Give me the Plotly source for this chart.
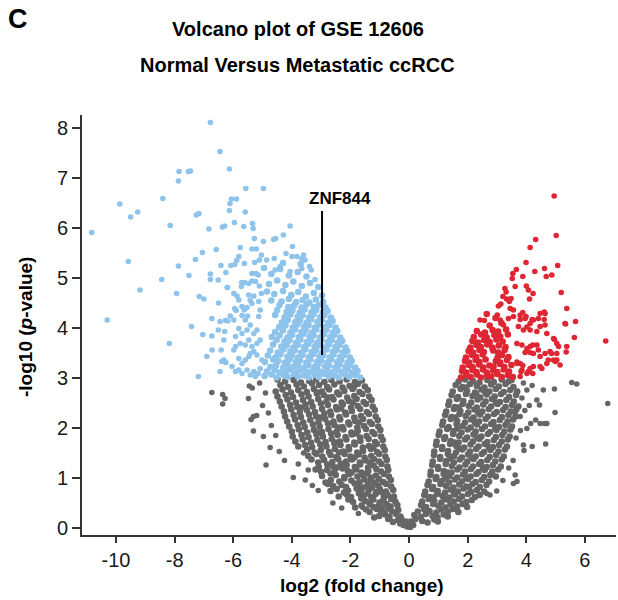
import plotly.graph_objects as go

# ---------------- data (log2 fold change, -log10 p-value) ----------------
# down-regulated, significant (blue)
down_sparse = [
    (-6.78, 8.11), (-6.45, 7.53), (-6.13, 7.18), (-7.85, 7.13), (-7.53, 7.13), (-7.46, 7.14),
    (-7.87, 6.94), (-5.57, 6.79), (-4.97, 6.79), (-9.87, 6.48), (-8.40, 6.59), (-6.06, 6.58),
    (-5.89, 6.58), (-6.11, 6.49), (-9.26, 6.32), (-9.50, 6.22), (-7.26, 6.26), (-7.17, 6.29),
    (-6.13, 6.35), (-5.59, 6.32), (-10.83, 5.91), (-8.15, 6.05), (-6.83, 5.98), (-6.37, 6.02),
    (-6.29, 6.04), (-5.96, 6.11), (-5.64, 6.03), (-5.34, 6.09), (-5.32, 5.99), (-5.28, 5.79),
    (-4.97, 5.73), (-4.62, 5.77), (-4.55, 5.79), (-4.29, 5.86), (-4.06, 6.04), (-3.98, 5.63),
    (-9.58, 5.33), (-9.18, 4.76), (-8.44, 4.97), (-7.87, 5.24), (-7.93, 4.69), (-7.51, 5.05),
    (-7.29, 5.37), (-7.05, 5.51), (-7.16, 4.63), (-7.00, 4.58), (-6.78, 5.08), (-6.78, 4.97),
    (-6.58, 5.57), (-6.51, 4.96), (-6.50, 4.50), (-6.42, 5.25), (-6.25, 5.11), (-6.20, 4.81),
    (-6.08, 5.25), (-5.95, 5.27), (-5.88, 5.35), (-5.81, 5.43), (-5.76, 5.61), (-5.71, 4.91),
    (-5.62, 5.29), (-5.36, 5.58), (-5.21, 5.58), (-3.60, 5.46), (-3.55, 5.36), (-3.40, 5.23),
    (-3.34, 5.16), (-3.21, 4.97), (-3.83, 5.43), (-4.86, 5.36), (-4.60, 5.39), (-4.40, 5.23),
    (-4.20, 5.49), (-4.00, 5.43), (-3.66, 5.39), (-4.57, 5.16), (-4.06, 5.13), (-3.66, 5.19),
    (-10.30, 4.16), (-8.18, 3.69), (-7.42, 4.03), (-7.19, 3.03), (-7.04, 3.87), (-6.90, 3.43),
    (-6.73, 4.19), (-6.73, 3.84), (-6.45, 3.13), (-6.39, 3.33), (-6.51, 3.96), (-6.45, 4.13),
    (-6.26, 4.15), (-6.19, 4.14), (-6.29, 3.93), (-6.32, 3.36), (-6.25, 3.31), (-5.92, 3.83),
    (-6.20, 4.81), (-5.98, 4.69), (-5.87, 4.64), (-5.81, 4.56), (-5.95, 4.39), (-5.90, 4.35),
    (-5.70, 4.43), (-5.63, 4.36), (-5.53, 4.41), (-5.51, 4.24), (-5.70, 4.25), (-5.59, 4.16),
    (-5.36, 4.49), (-5.42, 4.55), (-5.30, 4.64), (-5.47, 4.66), (-5.72, 4.83), (-5.61, 4.91),
    (-5.47, 4.89), (-5.36, 4.94), (-5.24, 4.93), (-5.15, 5.06), (-5.11, 5.36), (-5.27, 5.31),
    (-5.36, 5.09), (-5.22, 5.09), (-5.11, 4.84), (-5.04, 5.46), (-5.98, 3.56), (-5.81, 3.39),
    (-5.70, 3.29), (-5.59, 3.36), (-5.47, 3.43), (-5.42, 3.49), (-5.30, 3.53), (-5.19, 3.46),
    (-6.04, 3.23), (-5.92, 3.13), (-5.81, 3.16), (-5.70, 3.09), (-5.53, 3.16), (-5.42, 3.06),
    (-5.30, 3.13), (-5.25, 3.03), (-5.15, 3.09), (-5.08, 3.19), (-5.02, 3.36), (-6.10, 4.24),
    (-5.98, 4.16), (-6.32, 3.76), (-6.41, 3.56), (-6.72, 3.56), (-5.81, 3.99), (-5.70, 3.89),
    (-5.53, 3.96), (-5.42, 4.06), (-5.30, 3.89), (-5.19, 3.96), (-5.92, 3.63), (-5.76, 3.69),
    (-5.59, 3.66), (-5.47, 3.76), (-5.36, 3.63), (-5.19, 3.69), (-5.08, 3.76), (-5.13, 4.23),
    (-5.08, 4.36), (-5.13, 4.53), (-5.04, 4.69),
]
down_dense = [
    (-1.67, 3.01), (-1.84, 3.06), (-2.04, 3.02), (-2.18, 3.07), (-2.39, 3.01), (-2.53, 3.05),
    (-2.74, 3.03), (-2.88, 3.08), (-3.08, 3.02), (-3.22, 3.06), (-3.43, 3.01), (-3.58, 3.05),
    (-3.79, 3.03), (-3.93, 3.08), (-4.14, 3.02), (-4.29, 3.06), (-4.52, 3.01), (-4.69, 3.07),
    (-4.93, 3.04),
    (-1.76, 3.14), (-1.95, 3.11), (-2.09, 3.17), (-2.30, 3.12), (-2.44, 3.16), (-2.65, 3.11),
    (-2.79, 3.15), (-3.00, 3.12), (-3.13, 3.17), (-3.35, 3.13), (-3.49, 3.11), (-3.70, 3.16),
    (-3.84, 3.12), (-4.06, 3.17), (-4.20, 3.13), (-4.42, 3.11), (-4.58, 3.16), (-4.85, 3.13),
    (-1.84, 3.21), (-2.03, 3.26), (-2.17, 3.22), (-2.38, 3.27), (-2.52, 3.21), (-2.74, 3.25),
    (-2.87, 3.23), (-3.09, 3.28), (-3.23, 3.22), (-3.44, 3.26), (-3.57, 3.21), (-3.79, 3.25),
    (-3.93, 3.23), (-4.15, 3.27), (-4.29, 3.21), (-4.54, 3.25), (-4.73, 3.22),
    (-1.96, 3.34), (-2.10, 3.31), (-2.32, 3.36), (-2.45, 3.32), (-2.66, 3.37), (-2.80, 3.31),
    (-3.01, 3.35), (-3.15, 3.32), (-3.37, 3.37), (-3.50, 3.31), (-3.72, 3.35), (-3.86, 3.33),
    (-4.08, 3.37), (-4.23, 3.31), (-4.46, 3.34), (-4.64, 3.37), (-4.92, 3.32),
    (-2.02, 3.41), (-2.22, 3.46), (-2.36, 3.42), (-2.58, 3.47), (-2.71, 3.41), (-2.93, 3.45),
    (-3.06, 3.43), (-3.28, 3.48), (-3.42, 3.42), (-3.64, 3.46), (-3.78, 3.41), (-4.00, 3.45),
    (-4.15, 3.43), (-4.39, 3.47), (-4.56, 3.41), (-4.82, 3.45),
    (-2.11, 3.54), (-2.26, 3.51), (-2.47, 3.56), (-2.61, 3.52), (-2.82, 3.57), (-2.96, 3.51),
    (-3.18, 3.55), (-3.32, 3.52), (-3.54, 3.57), (-3.68, 3.51), (-3.90, 3.55), (-4.05, 3.53),
    (-4.29, 3.57), (-4.48, 3.51), (-4.74, 3.55),
    (-2.17, 3.61), (-2.38, 3.66), (-2.51, 3.62), (-2.73, 3.67), (-2.86, 3.61), (-3.08, 3.65),
    (-3.22, 3.63), (-3.44, 3.68), (-3.58, 3.62), (-3.80, 3.66), (-3.95, 3.61), (-4.18, 3.65),
    (-4.36, 3.63), (-4.64, 3.67),
    (-2.28, 3.74), (-2.43, 3.71), (-2.64, 3.76), (-2.78, 3.72), (-2.99, 3.77), (-3.13, 3.71),
    (-3.35, 3.75), (-3.49, 3.72), (-3.71, 3.77), (-3.85, 3.71), (-4.08, 3.75), (-4.25, 3.73),
    (-4.52, 3.76),
    (-2.35, 3.81), (-2.56, 3.86), (-2.69, 3.82), (-2.91, 3.87), (-3.04, 3.81), (-3.26, 3.85),
    (-3.40, 3.83), (-3.62, 3.88), (-3.76, 3.82), (-3.99, 3.86), (-4.15, 3.81), (-4.42, 3.85),
    (-4.68, 3.82),
    (-2.45, 3.94), (-2.60, 3.91), (-2.82, 3.96), (-2.95, 3.92), (-3.17, 3.97), (-3.31, 3.91),
    (-3.53, 3.95), (-3.67, 3.92), (-3.89, 3.97), (-4.05, 3.91), (-4.31, 3.95), (-4.57, 3.92),
    (-2.51, 4.01), (-2.72, 4.06), (-2.86, 4.02), (-3.07, 4.07), (-3.21, 4.01), (-3.43, 4.05),
    (-3.58, 4.03), (-3.81, 4.07), (-3.97, 4.01), (-4.22, 4.05), (-4.43, 4.02),
    (-2.61, 4.14), (-2.76, 4.11), (-2.98, 4.16), (-3.12, 4.12), (-3.34, 4.17), (-3.49, 4.11),
    (-3.72, 4.15), (-3.88, 4.12), (-4.14, 4.16), (-4.34, 4.11),
    (-2.67, 4.21), (-2.89, 4.26), (-3.03, 4.22), (-3.26, 4.27), (-3.41, 4.21), (-3.64, 4.25),
    (-3.80, 4.23), (-4.05, 4.27), (-4.25, 4.21), (-4.57, 4.26),
    (-2.78, 4.34), (-2.94, 4.31), (-3.17, 4.36), (-3.33, 4.32), (-3.57, 4.37), (-3.73, 4.31),
    (-3.98, 4.35), (-4.18, 4.32), (-4.50, 4.36),
    (-2.85, 4.41), (-3.08, 4.46), (-3.25, 4.42), (-3.50, 4.47), (-3.67, 4.41), (-3.92, 4.45),
    (-4.12, 4.42), (-4.42, 4.46),
    (-2.93, 4.52), (-3.18, 4.57), (-3.40, 4.51), (-3.63, 4.56), (-3.85, 4.52), (-4.10, 4.58),
    (-4.35, 4.53), (-4.70, 4.55),
    (-2.97, 4.65), (-3.25, 4.70), (-3.52, 4.63), (-3.78, 4.72), (-4.02, 4.66), (-4.30, 4.74),
    (-4.60, 4.68), (-4.85, 4.73),
    (-3.10, 4.82), (-3.38, 4.90), (-3.66, 4.84), (-3.95, 4.93), (-4.22, 4.86), (-4.50, 4.95),
    (-4.78, 4.88),
    (-3.50, 5.03), (-3.80, 5.12), (-4.10, 5.05), (-4.40, 5.18), (-4.70, 5.08), (-4.95, 5.20),
    (-3.70, 5.28), (-4.30, 5.30),
]

# up-regulated, significant (red)
up_sparse = [
    (4.95, 6.64), (5.02, 5.85), (4.32, 5.77), (4.13, 5.61), (3.99, 5.31), (3.66, 5.17),
    (3.54, 5.09), (3.52, 4.99), (3.88, 5.03), (4.29, 5.13), (4.62, 5.19), (4.68, 5.03),
    (4.87, 5.06), (5.07, 5.25), (3.62, 4.83), (4.00, 4.84), (4.07, 4.76), (4.11, 4.58),
    (4.23, 4.69), (3.27, 4.79), (3.31, 4.72), (3.20, 4.63), (3.33, 4.58), (3.48, 4.59),
    (3.13, 4.48), (3.05, 4.44), (5.19, 4.71), (5.38, 4.39), (5.68, 4.13), (5.34, 4.08),
    (4.61, 4.32), (4.61, 4.17), (5.64, 3.81), (4.96, 3.77), (5.10, 3.63), (4.86, 3.49),
    (5.04, 3.36), (4.99, 3.33), (4.75, 3.36), (5.36, 3.52), (4.53, 3.19), (4.47, 4.03),
    (4.41, 4.19), (4.13, 3.96), (3.79, 4.17), (3.96, 4.19), (4.02, 4.02), (4.20, 4.17),
    (4.22, 3.66), (4.36, 3.66), (4.02, 3.59), (3.96, 3.51), (4.13, 3.51), (3.79, 3.29),
    (3.88, 3.25), (3.68, 3.32), (3.82, 3.13), (4.07, 3.13), (4.22, 3.09), (6.71, 3.74),
    (3.42, 4.53), (3.45, 4.39), (3.56, 4.36), (3.88, 4.31), (2.42, 4.16), (2.57, 4.15),
    (3.01, 4.26), (3.11, 4.16), (3.22, 4.06), (3.39, 4.19), (3.56, 4.23), (3.79, 4.26),
    (3.99, 4.23), (4.13, 4.09), (4.24, 4.16), (4.47, 4.29), (4.64, 4.29), (3.73, 4.03),
    (3.90, 3.96), (4.36, 3.93), (4.64, 4.06), (4.70, 3.89), (4.93, 3.79), (5.04, 3.69),
    (5.38, 3.63), (5.32, 4.09), (3.68, 3.69), (3.85, 3.66), (4.13, 3.63), (4.24, 3.49),
    (4.41, 3.56), (4.47, 3.43), (4.64, 3.49), (4.81, 3.53), (5.04, 3.49), (4.24, 3.23),
    (4.47, 3.23), (4.70, 3.29), (4.93, 3.36), (5.15, 3.26), (3.68, 3.29), (3.85, 3.16),
    (4.02, 3.09), (4.13, 3.19), (3.79, 3.03),
]
up_dense = [
    (1.77, 3.01), (1.96, 3.06), (2.10, 3.02), (2.31, 3.07), (2.45, 3.01), (2.66, 3.05),
    (2.80, 3.03), (3.01, 3.08), (3.16, 3.02), (3.37, 3.06), (3.54, 3.02),
    (1.81, 3.14), (1.95, 3.11), (2.16, 3.16), (2.30, 3.12), (2.52, 3.17), (2.65, 3.11),
    (2.87, 3.15), (3.01, 3.12), (3.23, 3.17), (3.41, 3.13),
    (1.83, 3.21), (2.04, 3.26), (2.17, 3.22), (2.39, 3.27), (2.53, 3.21), (2.74, 3.25),
    (2.88, 3.23), (3.10, 3.28), (3.25, 3.22), (3.49, 3.26),
    (1.91, 3.34), (2.05, 3.31), (2.27, 3.36), (2.40, 3.32), (2.61, 3.37), (2.96, 3.34),
    (3.11, 3.31), (3.34, 3.36),
    (1.94, 3.41), (2.15, 3.46), (2.29, 3.42), (2.51, 3.47), (3.02, 3.41), (3.17, 3.46),
    (3.39, 3.42),
    (2.03, 3.54), (2.18, 3.51), (2.40, 3.56), (2.55, 3.52), (2.87, 3.55), (3.04, 3.51),
    (3.26, 3.56),
    (2.09, 3.61), (2.30, 3.66), (2.45, 3.62), (2.67, 3.67), (2.84, 3.61), (3.06, 3.65),
    (3.29, 3.62),
    (2.16, 3.74), (2.35, 3.71), (2.56, 3.76), (2.75, 3.72), (2.98, 3.77), (3.19, 3.73),
    (2.21, 3.82), (2.46, 3.87), (2.65, 3.81), (2.91, 3.86), (3.11, 3.83), (3.37, 3.87),
    (2.31, 3.94), (2.59, 3.91), (2.85, 3.96), (3.04, 3.93), (3.31, 3.97),
    (2.75, 4.05), (2.95, 4.20), (3.15, 4.10), (2.65, 4.28),
]

# not significant (grey)
ns_left = [
    (-0.06, 0.03), (-0.19, 0.06), (0.04, 0.02), (0.14, 0.06), (-0.30, 0.09),
    (-0.12, 0.13), (-0.38, 0.16), (-0.55, 0.12), (-0.71, 0.18), (-0.27, 0.19),
    (-0.30, 0.23), (-0.44, 0.28), (-0.67, 0.22), (-0.81, 0.27), (-1.02, 0.24), (-1.19, 0.21),
    (-0.95, 0.29),
    (-0.37, 0.36), (-0.58, 0.33), (-0.70, 0.39), (-0.96, 0.34), (-1.10, 0.38), (-1.35, 0.32),
    (-1.47, 0.37), (-0.84, 0.31),
    (-0.40, 0.46), (-0.63, 0.43), (-0.77, 0.48), (-1.03, 0.44), (-1.21, 0.42), (-1.33, 0.47),
    (-1.62, 0.45), (-1.84, 0.41), (-0.92, 0.41),
    (-0.47, 0.53), (-0.61, 0.58), (-0.88, 0.55), (-1.01, 0.51), (-1.22, 0.57), (-1.50, 0.54),
    (-1.63, 0.59), (-1.91, 0.52), (-2.07, 0.57), (-1.37, 0.51),
    (-0.52, 0.63), (-0.73, 0.66), (-0.86, 0.61), (-1.14, 0.68), (-1.29, 0.62), (-1.55, 0.65),
    (-1.71, 0.69), (-1.98, 0.62), (-2.13, 0.67), (-2.40, 0.63), (-1.42, 0.69),
    (-0.54, 0.76), (-0.79, 0.73), (-1.00, 0.78), (-1.12, 0.72), (-1.37, 0.76), (-1.64, 0.73),
    (-1.79, 0.79), (-2.08, 0.75), (-2.22, 0.71), (-2.47, 0.78), (-2.68, 0.74), (-0.92, 0.71),
    (-0.61, 0.83), (-0.78, 0.88), (-1.05, 0.85), (-1.26, 0.81), (-1.41, 0.87), (-1.70, 0.84),
    (-1.86, 0.89), (-2.15, 0.82), (-2.30, 0.86), (-2.59, 0.84), (-2.77, 0.88), (-1.57, 0.81),
    (-0.62, 0.96), (-0.88, 0.92), (-1.03, 0.98), (-1.31, 0.94), (-1.52, 0.97), (-1.69, 0.92),
    (-1.97, 0.95), (-2.21, 0.99), (-2.38, 0.93), (-2.67, 0.96), (-2.85, 0.91), (-1.18, 0.91),
    (-0.69, 1.03), (-0.86, 1.08), (-1.13, 1.05), (-1.30, 1.01), (-1.58, 1.06), (-1.76, 1.03),
    (-2.04, 1.08), (-2.21, 1.02), (-2.50, 1.06), (-2.68, 1.09), (-2.97, 1.04), (-1.44, 1.09),
    (-0.71, 1.16), (-0.95, 1.13), (-1.12, 1.18), (-1.39, 1.14), (-1.62, 1.11), (-1.80, 1.17),
    (-2.09, 1.14), (-2.27, 1.19), (-2.55, 1.12), (-2.80, 1.16), (-3.00, 1.12), (-3.19, 1.17),
    (-1.96, 1.11),
    (-0.74, 1.23), (-0.94, 1.28), (-1.21, 1.25), (-1.40, 1.21), (-1.67, 1.27), (-1.85, 1.22),
    (-2.13, 1.26), (-2.33, 1.29), (-2.60, 1.23), (-2.79, 1.27), (-3.08, 1.22), (-2.46, 1.21),
    (-0.76, 1.36), (-1.02, 1.33), (-1.20, 1.38), (-1.48, 1.35), (-1.68, 1.31), (-1.95, 1.37),
    (-2.15, 1.33), (-2.42, 1.38), (-2.62, 1.32), (-2.90, 1.36), (-3.10, 1.31), (-3.33, 1.37),
    (-1.33, 1.31),
    (-0.81, 1.43), (-1.02, 1.48), (-1.29, 1.44), (-1.52, 1.41), (-1.72, 1.47), (-2.00, 1.43),
    (-2.20, 1.48), (-2.48, 1.42), (-2.68, 1.46), (-2.96, 1.43), (-3.16, 1.48), (-3.44, 1.44),
    (-1.86, 1.41),
    (-0.83, 1.56), (-1.09, 1.52), (-1.30, 1.58), (-1.57, 1.54), (-1.77, 1.51), (-2.05, 1.57),
    (-2.25, 1.53), (-2.53, 1.58), (-2.73, 1.52), (-3.01, 1.56), (-3.22, 1.51), (-3.48, 1.57),
    (-2.39, 1.51),
    (-0.88, 1.63), (-1.10, 1.68), (-1.37, 1.64), (-1.58, 1.61), (-1.85, 1.67), (-2.06, 1.62),
    (-2.34, 1.66), (-2.55, 1.69), (-2.82, 1.63), (-3.03, 1.67), (-3.31, 1.62), (-3.55, 1.66),
    (-3.78, 1.63), (-1.22, 1.61),
    (-0.90, 1.76), (-1.16, 1.72), (-1.38, 1.78), (-1.66, 1.74), (-1.87, 1.71), (-2.14, 1.77),
    (-2.36, 1.73), (-2.64, 1.78), (-2.85, 1.72), (-3.13, 1.76), (-3.35, 1.71), (-3.63, 1.77),
    (-3.88, 1.73), (-2.50, 1.71),
    (-0.96, 1.83), (-1.18, 1.88), (-1.45, 1.84), (-1.67, 1.81), (-1.95, 1.87), (-2.17, 1.82),
    (-2.44, 1.86), (-2.66, 1.89), (-2.94, 1.83), (-3.16, 1.87), (-3.43, 1.82), (-3.67, 1.86),
    (-3.97, 1.83), (-1.81, 1.89),
    (-0.98, 1.96), (-1.25, 1.92), (-1.47, 1.98), (-1.75, 1.94), (-1.97, 1.91), (-2.24, 1.97),
    (-2.47, 1.93), (-2.75, 1.98), (-2.97, 1.92), (-3.25, 1.96), (-3.48, 1.91), (-3.76, 1.97),
    (-4.00, 1.93), (-3.10, 1.91),
    (-1.05, 2.03), (-1.27, 2.08), (-1.54, 2.04), (-1.77, 2.01), (-2.04, 2.07), (-2.27, 2.02),
    (-2.55, 2.06), (-2.77, 2.09), (-3.05, 2.03), (-3.28, 2.07), (-3.56, 2.02), (-3.80, 2.06),
    (-4.09, 2.03), (-2.41, 2.01),
    (-1.07, 2.16), (-1.34, 2.12), (-1.57, 2.18), (-1.84, 2.14), (-2.07, 2.11), (-2.35, 2.17),
    (-2.58, 2.13), (-2.86, 2.18), (-3.09, 2.12), (-3.37, 2.16), (-3.61, 2.11), (-3.89, 2.17),
    (-4.16, 2.13), (-1.71, 2.11),
    (-1.14, 2.23), (-1.37, 2.28), (-1.64, 2.24), (-1.87, 2.21), (-2.15, 2.27), (-2.38, 2.22),
    (-2.66, 2.26), (-2.89, 2.29), (-3.17, 2.23), (-3.41, 2.27), (-3.69, 2.22), (-3.94, 2.26),
    (-4.23, 2.23), (-3.03, 2.21),
    (-1.17, 2.36), (-1.44, 2.32), (-1.67, 2.38), (-1.95, 2.34), (-2.18, 2.31), (-2.46, 2.37),
    (-2.69, 2.33), (-2.97, 2.38), (-3.21, 2.32), (-3.49, 2.36), (-3.73, 2.31), (-4.02, 2.37),
    (-4.27, 2.33), (-2.32, 2.39),
    (-1.24, 2.43), (-1.47, 2.48), (-1.75, 2.44), (-1.98, 2.41), (-2.26, 2.47), (-2.49, 2.42),
    (-2.77, 2.46), (-3.01, 2.49), (-3.29, 2.43), (-3.53, 2.47), (-3.81, 2.42), (-4.06, 2.46),
    (-4.35, 2.43), (-3.67, 2.41),
    (-1.28, 2.56), (-1.55, 2.52), (-1.79, 2.58), (-2.06, 2.54), (-2.30, 2.51), (-2.58, 2.57),
    (-2.82, 2.53), (-3.10, 2.58), (-3.34, 2.52), (-3.62, 2.56), (-3.86, 2.51), (-4.15, 2.57),
    (-4.41, 2.53), (-1.92, 2.51),
    (-1.36, 2.63), (-1.59, 2.68), (-1.87, 2.64), (-2.11, 2.61), (-2.39, 2.67), (-2.63, 2.62),
    (-2.91, 2.66), (-3.15, 2.69), (-3.43, 2.63), (-3.67, 2.67), (-3.96, 2.62), (-4.21, 2.66),
    (-4.49, 2.63), (-2.77, 2.61),
    (-1.41, 2.76), (-1.69, 2.72), (-1.93, 2.78), (-2.21, 2.74), (-2.45, 2.71), (-2.73, 2.77),
    (-2.97, 2.73), (-3.25, 2.78), (-3.49, 2.72), (-3.78, 2.76), (-4.03, 2.71), (-4.32, 2.77),
    (-4.55, 2.73), (-3.11, 2.71),
    (-1.51, 2.83), (-1.75, 2.88), (-2.03, 2.84), (-2.27, 2.81), (-2.55, 2.87), (-2.79, 2.82),
    (-3.07, 2.86), (-3.31, 2.89), (-3.59, 2.83), (-3.84, 2.87), (-4.13, 2.82), (-4.39, 2.86),
    (-1.89, 2.81),
    (-1.61, 2.95), (-1.85, 2.92), (-2.13, 2.97), (-2.37, 2.93), (-2.65, 2.96), (-2.89, 2.92),
    (-3.17, 2.97), (-3.41, 2.94), (-3.69, 2.91), (-3.94, 2.96), (-4.23, 2.93), (-4.49, 2.97),
]
ns_left_sparse = [
    (-6.73, 2.71), (-6.36, 2.67), (-6.28, 2.59), (-6.36, 2.48), (-5.48, 2.59), (-5.45, 2.84),
    (-5.35, 2.80), (-5.39, 2.17), (-5.31, 2.23), (-5.20, 2.25), (-5.31, 1.94), (-4.97, 1.83),
    (-4.74, 1.61), (-4.43, 1.53), (-4.88, 1.26), (-4.25, 1.35), (-3.95, 1.01), (-3.54, 0.96),
    (-3.78, 1.28), (-3.44, 1.16), (-1.73, 0.29), (-1.58, 0.41), (-5.10, 2.90), (-4.90, 2.70),
    (-5.00, 2.45), (-4.80, 2.30), (-4.70, 2.05), (-4.55, 1.85), (-3.30, 0.85), (-3.60, 1.50),
    (-3.10, 0.75), (-2.60, 0.50), (-2.30, 0.40),
]
ns_right = [
    (0.06, 0.13), (0.22, 0.18), (0.45, 0.14), (0.63, 0.11), (0.86, 0.17), (0.98, 0.13),
    (0.18, 0.26), (0.40, 0.22), (0.57, 0.28), (0.80, 0.24), (0.97, 0.21), (1.18, 0.27),
    (1.32, 0.23),
    (0.30, 0.33), (0.51, 0.38), (0.70, 0.34), (0.93, 0.31), (1.10, 0.37), (1.33, 0.33),
    (1.50, 0.38), (1.68, 0.32),
    (0.41, 0.46), (0.58, 0.42), (0.82, 0.48), (1.00, 0.44), (1.24, 0.41), (1.41, 0.47),
    (1.64, 0.43), (1.83, 0.48), (1.98, 0.42),
    (0.45, 0.53), (0.67, 0.58), (0.86, 0.54), (1.10, 0.51), (1.29, 0.57), (1.52, 0.53),
    (1.71, 0.58), (1.95, 0.52), (2.14, 0.56), (1.22, 0.59),
    (0.52, 0.66), (0.70, 0.62), (0.95, 0.68), (1.14, 0.64), (1.38, 0.61), (1.57, 0.67),
    (1.81, 0.63), (2.01, 0.68), (2.25, 0.62), (2.41, 0.66), (0.83, 0.61),
    (0.55, 0.73), (0.79, 0.78), (0.98, 0.74), (1.23, 0.71), (1.42, 0.77), (1.67, 0.73),
    (1.86, 0.79), (2.11, 0.72), (2.31, 0.76), (2.56, 0.73), (1.53, 0.71),
    (0.63, 0.86), (0.82, 0.82), (1.07, 0.88), (1.26, 0.84), (1.51, 0.81), (1.71, 0.87),
    (1.96, 0.83), (2.16, 0.88), (2.41, 0.82), (2.64, 0.86), (2.05, 0.81),
    (0.67, 0.93), (0.91, 0.98), (1.11, 0.94), (1.36, 0.91), (1.56, 0.97), (1.81, 0.93),
    (2.01, 0.98), (2.27, 0.92), (2.48, 0.96), (2.73, 0.93), (1.24, 0.99),
    (0.73, 1.06), (0.93, 1.02), (1.18, 1.08), (1.38, 1.04), (1.64, 1.01), (1.84, 1.07),
    (2.10, 1.03), (2.30, 1.08), (2.56, 1.02), (2.77, 1.06), (2.96, 1.03), (1.96, 1.01),
    (0.74, 1.13), (0.99, 1.18), (1.19, 1.14), (1.45, 1.11), (1.65, 1.17), (1.91, 1.13),
    (2.11, 1.18), (2.37, 1.12), (2.58, 1.16), (2.84, 1.13), (3.04, 1.17), (1.32, 1.11),
    (0.79, 1.26), (0.99, 1.22), (1.25, 1.28), (1.46, 1.24), (1.72, 1.21), (1.92, 1.27),
    (2.18, 1.23), (2.39, 1.28), (2.65, 1.22), (2.86, 1.26), (3.13, 1.23), (2.52, 1.21),
    (0.81, 1.33), (1.06, 1.38), (1.27, 1.34), (1.53, 1.31), (1.73, 1.37), (1.99, 1.33),
    (2.20, 1.38), (2.46, 1.32), (2.67, 1.36), (2.94, 1.33), (3.16, 1.37), (1.40, 1.39),
    (0.85, 1.46), (1.06, 1.42), (1.32, 1.48), (1.53, 1.44), (1.80, 1.41), (2.01, 1.47),
    (2.27, 1.43), (2.48, 1.48), (2.75, 1.42), (2.97, 1.46), (3.23, 1.43), (2.14, 1.41),
    (0.86, 1.53), (1.12, 1.58), (1.33, 1.54), (1.60, 1.51), (1.81, 1.57), (2.08, 1.53),
    (2.29, 1.58), (2.56, 1.52), (2.78, 1.56), (3.05, 1.53), (3.27, 1.57), (1.72, 1.59),
    (0.92, 1.66), (1.13, 1.62), (1.40, 1.68), (1.61, 1.64), (1.88, 1.61), (2.10, 1.67),
    (2.37, 1.63), (2.58, 1.68), (2.86, 1.62), (3.07, 1.66), (3.34, 1.63), (2.72, 1.61),
    (0.94, 1.73), (1.20, 1.78), (1.42, 1.74), (1.69, 1.71), (1.91, 1.77), (2.18, 1.73),
    (2.40, 1.78), (2.67, 1.72), (2.89, 1.76), (3.16, 1.73), (3.37, 1.77), (1.55, 1.71),
    (1.01, 1.86), (1.23, 1.82), (1.50, 1.88), (1.71, 1.84), (1.98, 1.81), (2.20, 1.87),
    (2.47, 1.83), (2.69, 1.88), (2.96, 1.82), (3.18, 1.86), (3.43, 1.83), (2.33, 1.81),
    (1.04, 1.93), (1.30, 1.98), (1.52, 1.94), (1.79, 1.91), (2.00, 1.97), (2.27, 1.93),
    (2.49, 1.98), (2.76, 1.92), (2.98, 1.96), (3.25, 1.93), (3.46, 1.97), (1.65, 1.99),
    (1.13, 2.06), (1.35, 2.02), (1.62, 2.08), (1.83, 2.04), (2.10, 2.01), (2.32, 2.07),
    (2.59, 2.03), (2.80, 2.08), (3.07, 2.02), (3.29, 2.06), (3.51, 2.03), (2.94, 2.01),
    (1.16, 2.13), (1.42, 2.18), (1.64, 2.14), (1.91, 2.11), (2.12, 2.17), (2.39, 2.13),
    (2.61, 2.18), (2.88, 2.12), (3.10, 2.16), (3.36, 2.13), (3.55, 2.17), (2.25, 2.11),
    (1.23, 2.26), (1.45, 2.22), (1.72, 2.28), (1.93, 2.24), (2.20, 2.21), (2.42, 2.27),
    (2.69, 2.23), (2.90, 2.28), (3.17, 2.22), (3.39, 2.26), (3.63, 2.23), (1.58, 2.21),
    (1.27, 2.33), (1.53, 2.38), (1.75, 2.34), (2.02, 2.31), (2.23, 2.37), (2.50, 2.33),
    (2.72, 2.38), (2.99, 2.32), (3.21, 2.36), (3.47, 2.33), (3.66, 2.37), (2.36, 2.31),
    (1.34, 2.46), (1.56, 2.42), (1.83, 2.48), (2.04, 2.44), (2.31, 2.41), (2.53, 2.47),
    (2.80, 2.43), (3.02, 2.48), (3.29, 2.42), (3.51, 2.46), (3.73, 2.43), (1.69, 2.41),
    (1.37, 2.53), (1.63, 2.58), (1.85, 2.54), (2.12, 2.51), (2.34, 2.57), (2.61, 2.53),
    (2.83, 2.58), (3.10, 2.52), (3.32, 2.56), (3.57, 2.53), (2.97, 2.51),
    (1.45, 2.66), (1.67, 2.62), (1.94, 2.68), (2.16, 2.64), (2.43, 2.61), (2.65, 2.67),
    (2.92, 2.63), (3.14, 2.68), (3.41, 2.62), (3.65, 2.66), (2.29, 2.69),
    (1.49, 2.73), (1.76, 2.78), (1.98, 2.74), (2.25, 2.71), (2.47, 2.77), (2.74, 2.73),
    (2.96, 2.78), (3.23, 2.72), (3.45, 2.76), (3.69, 2.73), (2.60, 2.71),
    (1.59, 2.86), (1.82, 2.82), (2.08, 2.88), (2.31, 2.84), (2.57, 2.81), (2.80, 2.87),
    (3.06, 2.83), (3.29, 2.88), (3.56, 2.82), (1.95, 2.81),
    (1.69, 2.93), (1.91, 2.97), (2.18, 2.94), (2.40, 2.91), (2.67, 2.96), (2.89, 2.92),
    (3.16, 2.97), (3.39, 2.93), (3.50, 2.96),
]
ns_right_sparse = [
    (5.55, 2.91), (5.72, 2.88), (6.78, 2.49), (4.96, 2.78), (4.58, 2.76), (4.98, 2.31),
    (4.62, 2.09), (4.70, 2.09), (4.47, 2.09), (4.32, 2.16), (4.15, 2.09), (4.02, 1.99),
    (4.66, 1.68), (4.20, 1.63), (3.90, 1.66), (3.92, 1.55), (3.62, 1.06), (3.68, 0.93),
    (3.56, 0.89), (2.99, 0.74), (2.76, 0.66), (2.65, 0.69), (4.02, 2.76), (4.36, 2.56),
    (4.45, 2.46), (3.62, 2.31), (3.79, 2.23), (3.90, 2.90), (4.20, 2.85), (3.85, 2.60),
    (4.10, 2.45), (3.95, 2.35), (3.80, 1.95), (3.65, 1.80), (3.55, 1.35), (3.40, 1.20),
    (3.20, 0.95),
]

x_tick_vals = [-10, -8, -6, -4, -2, 0, 2, 4, 6]
x_tick_text = ["-10", "-8", "-6", "-4", "-2", "0", "2", "4", "6"]
y_tick_vals = [0, 1, 2, 3, 4, 5, 6, 7, 8]
y_tick_text = ["0", "1", "2", "3", "4", "5", "6", "7", "8"]

highlight_gene = "ZNF844"
highlight_x = -2.97
highlight_y = 3.46
label_y = 6.34

GREY = "#666666"
BLUE = "#8EC3EB"
RED = "#DF2633"
FONT = "Liberation Sans, Arial, sans-serif"
SPARSE_SIZE = 5.6
DENSE_SIZE = 6.6

# ---------------- figure ----------------
groups = [
    (ns_left + ns_right, GREY, DENSE_SIZE),
    (ns_left_sparse + ns_right_sparse, GREY, SPARSE_SIZE),
    (down_dense, BLUE, DENSE_SIZE),
    (down_sparse, BLUE, SPARSE_SIZE),
    (up_dense, RED, DENSE_SIZE),
    (up_sparse, RED, SPARSE_SIZE),
]

fig = go.Figure()
for pts, col, size in groups:
    fig.add_trace(go.Scatter(
        x=[p[0] for p in pts], y=[p[1] for p in pts], mode="markers",
        marker=dict(size=size, color=col, line=dict(width=0)),
        showlegend=False, hoverinfo="x+y"))

# ZNF844 label line
fig.add_shape(type="line", x0=highlight_x, x1=highlight_x, y0=highlight_y, y1=label_y,
              line=dict(color="black", width=2), layer="above")
fig.add_annotation(x=highlight_x + 0.62, y=label_y + 0.25, text="<b>" + highlight_gene + "</b>",
                   showarrow=False, font=dict(family=FONT, size=17, color="black"),
                   xanchor="center", yanchor="middle")

L, R, T, B = 82, 2, 115, 65
W, H = 618, 600
pw, ph = W - L - R, H - T - B

def px(xp):
    return (xp - L) / pw

def py(yp):
    return (H - B - yp) / ph

def ann(xp, yp, text, size, angle=0):
    fig.add_annotation(x=px(xp), y=py(yp), xref="paper", yref="paper", text=text,
                       showarrow=False, textangle=angle,
                       font=dict(family=FONT, size=size, color="black"),
                       xanchor="center", yanchor="middle")

ann(18, 19, "<b>C</b>", 27)
ann(297.5, 29, "<b>Volcano plot of GSE 12606</b>", 20)
ann(297.5, 65, "<b>Normal Versus Metastatic ccRCC</b>", 20)
ann(362, 585, "<b>log2 (fold change)</b>", 19)
ann(25, 327, "<b>-log10 (<i>p</i>-value)</b>", 19, angle=-90)

axis_common = dict(showgrid=False, zeroline=False, showline=True, linecolor="#333333",
                   linewidth=2, ticks="outside", tickcolor="#333333", tickwidth=1.5,
                   tickfont=dict(family=FONT, size=20, color="#1a1a1a"))
fig.update_xaxes(range=[-11.16, 7.06], tickvals=x_tick_vals, ticktext=x_tick_text,
                 ticklen=6, **axis_common)
fig.update_yaxes(range=[-0.14, 8.26], tickvals=y_tick_vals, ticktext=y_tick_text,
                 ticklen=8, **axis_common)

fig.update_layout(width=W, height=H, margin=dict(l=L, r=R, t=T, b=B, pad=0),
                  plot_bgcolor="white", paper_bgcolor="white", showlegend=False)

fig.write_html("out.html", config={"displayModeBar": False},
               post_script="document.body.style.margin='0px';")
